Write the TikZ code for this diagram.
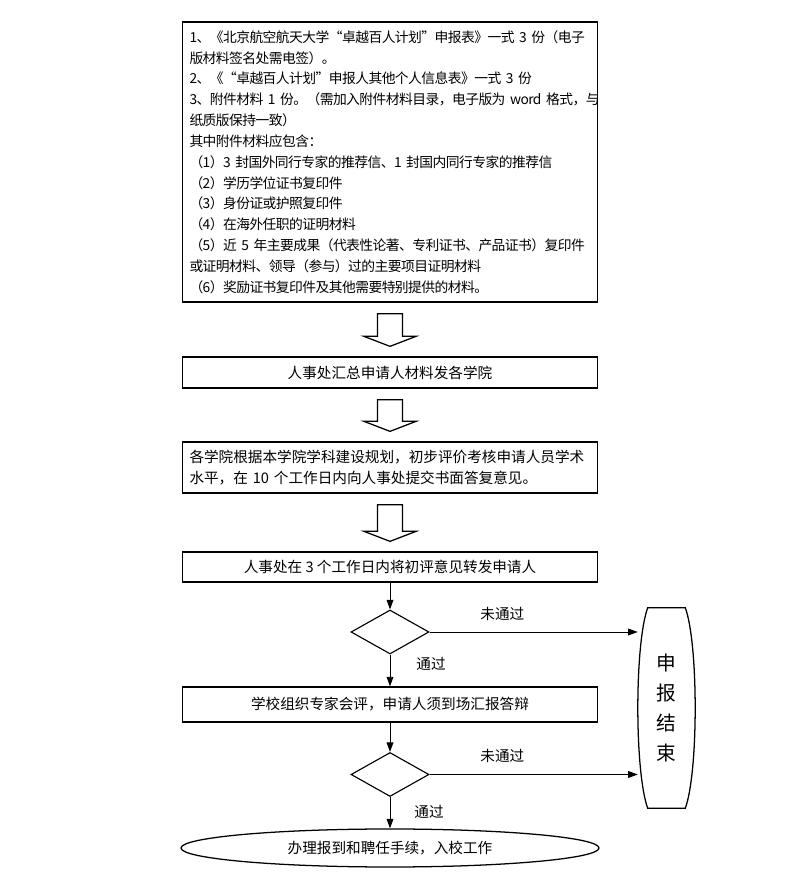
\documentclass[tikz,border=0pt]{standalone}
\usepackage{fontspec}
\newfontfamily\cjk{Noto Sans CJK SC}
\newfontfamily\cjktight{Noto Sans CJK SC}[LetterSpace=-4]
\usetikzlibrary{arrows.meta,calc,shapes.geometric}

\tikzset{
  flowtext/.style={font=\cjk\fontsize{10.4}{14.8}\selectfont, text=black},
  smalltext/.style={font=\cjktight\fontsize{9.8}{14.8}\selectfont},
  flowbox/.style={draw, line width=0.9pt, minimum width=10.375cm, inner sep=0pt},
  textbox/.style={draw, line width=0.9pt, text width=10.025cm, inner xsep=0.175cm, inner ysep=0pt, align=left},
  decision/.style={draw, diamond, line width=0.8pt, minimum width=1.95cm, minimum height=1.1cm, inner sep=0pt, aspect=1.77},
  finalbox/.style={draw, ellipse, line width=0.9pt, minimum width=10.45cm, minimum height=0.95cm, inner sep=0pt},
  endcap/.style={minimum width=1.425cm, minimum height=5cm, inner sep=0pt, align=center, font=\cjk\fontsize{14}{21.3}\selectfont},
  hollowarrow/.style={draw, line width=0.9pt, fill=white},
  flowarrow/.style={-{Triangle[length=2.4mm,width=1.7mm]}, line width=0.7pt},
  flowlabel/.style={inner sep=0pt}
}

% hollow block arrow between two boxes
\newcommand{\blockarrow}[2]{%
  \draw[hollowarrow] ($(#1.south)+(-0.31,-0.28)$) -- ($(#2.north)+(-0.31,0.5)$)
    -- ($(#2.north)+(-0.65,0.5)$) -- ($(#2.north)+(0,0.25)$)
    -- ($(#2.north)+(0.65,0.5)$) -- ($(#2.north)+(0.31,0.5)$)
    -- ($(#1.south)+(0.31,-0.28)$) -- cycle;}

\begin{document}
\begin{tikzpicture}[every node/.style={flowtext}]
\useasboundingbox (0,0) rectangle (19.825,22.35);

% material list
\node[textbox, smalltext, minimum height=7cm] (materials) at (9.75,18.3) {%
1、《北京航空航天大学“卓越百人计划”申报表》一式~3~份（电子\\
版材料签名处需电签）。\\
2、《“卓越百人计划”申报人其他个人信息表》一式~3~份\\
3、附件材料~1~份。（需加入附件材料目录，电子版为~word~格式，与\\
纸质版保持一致）\\
其中附件材料应包含：\\
（1）3~封国外同行专家的推荐信、1~封国内同行专家的推荐信\\
（2）学历学位证书复印件\\
（3）身份证或护照复印件\\
（4）在海外任职的证明材料\\
（5）近~5~年主要成果（代表性论著、专利证书、产品证书）复印件\\
或证明材料、领导（参与）过的主要项目证明材料\\
（6）奖励证书复印件及其他需要特别提供的材料。};

\node[flowbox, minimum height=0.775cm] (collect) at (9.75,13.0375) {人事处汇总申请人材料发各学院};
\node[textbox, minimum height=1.275cm] (college) at (9.75,10.6625) {%
各学院根据本学院学科建设规划，初步评价考核申请人员学术\\
水平，在~10~个工作日内向人事处提交书面答复意见。};
\node[flowbox, minimum height=0.75cm] (notice) at (9.75,8.175) {人事处在 3 个工作日内将初评意见转发申请人};
\node[decision] (check1) at (9.75,6.55) {};
\node[flowbox, minimum height=0.875cm] (review) at (9.75,4.7375) {学校组织专家会评，申请人须到场汇报答辩};
\node[decision] (check2) at (9.75,2.9875) {};
\node[finalbox] (hire) at (9.75,1.15) {办理报到和聘任手续，入校工作};

% end of application
\node[endcap] (stop) at (16.6625,4.65) {申\\报\\结\\束};
\draw[line width=0.9pt] ($(stop.north west)+(0.25,0)$) -- ($(stop.north east)+(-0.25,0)$)
  .. controls ($(stop.north east)+(0.08,-0.9)$) and ($(stop.south east)+(0.08,0.9)$) .. ($(stop.south east)+(-0.25,0)$)
  -- ($(stop.south west)+(0.25,0)$)
  .. controls ($(stop.south west)+(-0.08,0.9)$) and ($(stop.north west)+(-0.08,-0.9)$) .. cycle;

\blockarrow{materials}{collect}
\blockarrow{collect}{college}
\blockarrow{college}{notice}

\draw[flowarrow] (notice) -- (check1);
\draw[flowarrow] (check1.east) -- (check1.east -| stop.west)
  node[flowlabel, pos=0.35, above=0.28cm] {未通过};
\draw[flowarrow] (check1) -- (review)
  node[flowlabel, pos=0.3, right=0.65cm] {通过};
\draw[flowarrow] (review) -- (check2);
\draw[flowarrow] (check2.east) -- (check2.east -| stop.west)
  node[flowlabel, pos=0.35, above=0.28cm] {未通过};
\draw[flowarrow] (check2) -- (hire)
  node[flowlabel, pos=0.47, right=0.6cm] {通过};
\end{tikzpicture}
\end{document}
